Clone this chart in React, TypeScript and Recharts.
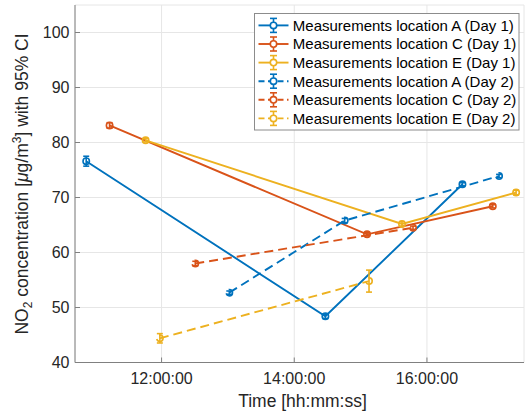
import React from 'react';
import { LineChart, Line, XAxis, YAxis, CartesianGrid, ErrorBar, Legend } from 'recharts';

// ---- data (time in decimal hours, NO2 in µg/m³, error = half-width of 95% CI) ----
const seriesNames = [
  'Measurements location A (Day 1)',
  'Measurements location C (Day 1)',
  'Measurements location E (Day 1)',
  'Measurements location A (Day 2)',
  'Measurements location C (Day 2)',
  'Measurements location E (Day 2)',
];

const a1Times = [10.864, 14.469, 16.535];
const a1Values = [76.6, 48.4, 72.4];
const a1Errors = [0.9, 0.4, 0.3];

const c1Times = [11.216, 15.097, 16.992];
const c1Values = [83.1, 63.3, 68.4];
const c1Errors = [0.5, 0.3, 0.3];

const e1Times = [11.759, 15.624, 17.344];
const e1Values = [80.4, 65.2, 70.9];
const e1Errors = [0.3, 0.4, 0.4];

const a2Times = [13.021, 14.76, 17.087];
const a2Values = [52.7, 65.8, 73.9];
const a2Errors = [0.3, 0.4, 0.3];

const c2Times = [12.508, 15.79];
const c2Values = [58.0, 64.5];
const c2Errors = [0.4, 0.3];

const e2Times = [11.974, 15.127];
const e2Values = [44.4, 54.8];
const e2Errors = [0.85, 2.0];

const xTicks = [12, 14, 16];
const yTicks = [40, 50, 60, 70, 80, 90, 100];

const COLORS = ['#0072BD', '#D95319', '#EDB120'];
const FONT = '"Liberation Sans", Arial, Helvetica, sans-serif';

const zip = (t: number[], v: number[], e: number[]) =>
  t.map((x, i) => ({ x, y: v[i], e: e[i] }));

const series = [
  { name: seriesNames[0], data: zip(a1Times, a1Values, a1Errors), color: COLORS[0], dashed: false },
  { name: seriesNames[1], data: zip(c1Times, c1Values, c1Errors), color: COLORS[1], dashed: false },
  { name: seriesNames[2], data: zip(e1Times, e1Values, e1Errors), color: COLORS[2], dashed: false },
  { name: seriesNames[3], data: zip(a2Times, a2Values, a2Errors), color: COLORS[0], dashed: true },
  { name: seriesNames[4], data: zip(c2Times, c2Values, c2Errors), color: COLORS[1], dashed: true },
  { name: seriesNames[5], data: zip(e2Times, e2Values, e2Errors), color: COLORS[2], dashed: true },
];

const fmtTime = (v: number) => `${String(v).padStart(2, '0')}:00:00`;

const YLabel = () => (
  <text
    transform="translate(28,184) rotate(-90)"
    textAnchor="middle"
    fontSize={17.5}
    fill="#262626"
    fontFamily={FONT}
  >
    <tspan>NO</tspan>
    <tspan dy={4} fontSize={12}>2</tspan>
    <tspan dy={-4}> concentration [</tspan>
    <tspan fontStyle="italic">μ</tspan>
    <tspan>g/m</tspan>
    <tspan dy={-7} fontSize={12}>3</tspan>
    <tspan dy={7}>] with 95% CI</tspan>
  </text>
);

const XLabel = () => (
  <text x={302.5} y={406.7} textAnchor="middle" fontSize={17.5} fill="#262626" fontFamily={FONT}>
    Time [hh:mm:ss]
  </text>
);

const LegendBox = () => (
  <svg width={266} height={118} style={{ display: 'block' }}>
    <rect x={0.5} y={0.5} width={264.5} height={116.5} fill="#ffffff" stroke="#8c8c8c" strokeWidth={1} />
    {series.map((s, i) => {
      const y = 12.4 + i * 18.6;
      const c = s.color;
      return (
        <g key={i}>
          <line x1={4.5} x2={34.5} y1={y} y2={y} stroke={c} strokeWidth={1.9} strokeDasharray={s.dashed ? '6 3.5' : undefined} />
          <line x1={19.5} x2={19.5} y1={y - 7} y2={y + 7} stroke={c} strokeWidth={1.6} />
          <line x1={16} x2={23} y1={y - 7} y2={y - 7} stroke={c} strokeWidth={1.6} />
          <line x1={16} x2={23} y1={y + 7} y2={y + 7} stroke={c} strokeWidth={1.6} />
          <circle cx={19.5} cy={y} r={3.2} fill="#ffffff" stroke={c} strokeWidth={1.6} />
          <text x={38.8} y={y + 5.4} fontSize={15} fill="#000000" fontFamily={FONT}>
            {s.name}
          </text>
        </g>
      );
    })}
  </svg>
);

export default function App() {
  return (
    <div style={{ position: 'absolute', left: 0, top: 0, width: 525, height: 412, background: '#ffffff' }}>
      <LineChart
        width={525}
        height={412}
        margin={{ top: 5, right: 1, bottom: 0, left: 0 }}
        style={{ fontFamily: FONT }}
      >
        <CartesianGrid stroke="#e6e6e6" strokeWidth={1} horizontal vertical />
        <XAxis
          type="number"
          dataKey="x"
          domain={[10.695, 17.463]}
          ticks={xTicks}
          tickFormatter={fmtTime}
          allowDataOverflow
          height={49.5}
          stroke="#808080"
          tickSize={-5}
          tickMargin={15}
          tick={{ fill: '#262626', fontSize: 16, fontFamily: FONT }}
          tickLine={{ stroke: '#808080' }}
          label={{ content: XLabel }}
        />
        <YAxis
          type="number"
          domain={[40, 105]}
          ticks={yTicks}
          allowDataOverflow
          width={75}
          stroke="#808080"
          tickSize={-5}
          tickMargin={10.5}
          tick={{ fill: '#262626', fontSize: 16, fontFamily: FONT }}
          tickLine={{ stroke: '#808080' }}
          label={{ content: YLabel }}
        />
        {series.map((s, i) => (
          <Line
            key={i}
            name={s.name}
            data={s.data}
            dataKey="y"
            type="linear"
            stroke={s.color}
            strokeWidth={1.9}
            strokeDasharray={s.dashed ? '9 5' : undefined}
            dot={{ r: 3.2, fill: 'none', stroke: s.color, strokeWidth: 1.6 }}
            activeDot={false}
            isAnimationActive={false}
          >
            <ErrorBar dataKey="e" direction="y" width={3} stroke={s.color} strokeWidth={1.6} />
          </Line>
        ))}
        <Legend
          layout="vertical"
          align="center"
          verticalAlign="middle"
          content={LegendBox}
          wrapperStyle={{ position: 'absolute', top: 13, left: 254, width: 266, height: 118, margin: 0, padding: 0 }}
        />
      </LineChart>
    </div>
  );
}
